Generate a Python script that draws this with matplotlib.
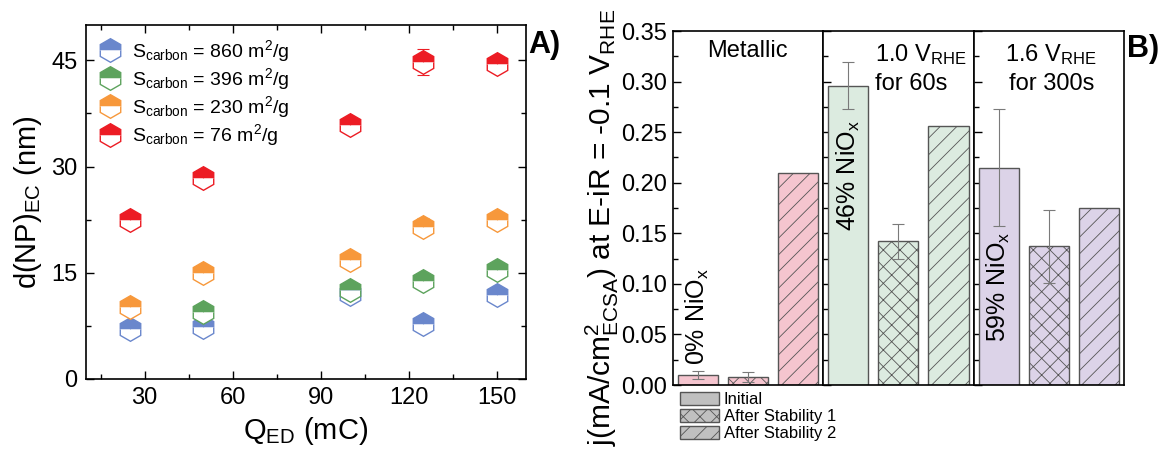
import matplotlib
matplotlib.use('Agg')
import matplotlib.pyplot as plt
from matplotlib.patches import Patch
from matplotlib.ticker import MultipleLocator, FormatStrFormatter
import numpy as np

plt.rcParams['font.family'] = ['Liberation Sans', 'DejaVu Sans']
plt.rcParams['mathtext.default'] = 'regular'
plt.rcParams['hatch.linewidth'] = 0.6

# ---- panel A data ----
q_ed = [25, 50, 100, 125, 150]
d_860 = [7.0, 7.3, 12.0, 7.8, 11.9]
d_860_err = [0.4, 0.4, 0.5, 0.4, 0.4]
q_396 = [50, 100, 125, 150]
d_396 = [9.4, 12.6, 13.8, 15.4]
d_396_err = [0.4, 0.4, 0.5, 0.5]
d_230 = [10.2, 15.0, 16.8, 21.5, 22.5]
d_230_err = [0.4, 0.5, 0.5, 1.2, 0.6]
d_76 = [22.4, 28.4, 35.9, 44.8, 44.5]
d_76_err = [0.5, 0.6, 0.6, 1.8, 1.1]

series_a = [
    ('S$_{carbon}$ = 860 m$^2$/g', q_ed, d_860, d_860_err, '#6a87cc'),
    ('S$_{carbon}$ = 396 m$^2$/g', q_396, d_396, d_396_err, '#5da35d'),
    ('S$_{carbon}$ = 230 m$^2$/g', q_ed, d_230, d_230_err, '#f7983b'),
    ('S$_{carbon}$ = 76 m$^2$/g', q_ed, d_76, d_76_err, '#ec1c24'),
]

# ---- panel B data ----
group_names = ['Metallic', '1.0 V$_{RHE}$\nfor 60s', '1.6 V$_{RHE}$\nfor 300s']
nio_labels = ['0% NiO$_x$', '46% NiO$_x$', '59% NiO$_x$']
j_values = [[0.010, 0.008, 0.210],
            [0.296, 0.142, 0.256],
            [0.215, 0.137, 0.175]]
j_errors = [[0.004, 0.005, 0.0],
            [0.023, 0.017, 0.0],
            [0.058, 0.036, 0.0]]
group_colors = ['#f5c5cf', '#dcebe0', '#dcd3e8']
stages = ['Initial', 'After Stability 1', 'After Stability 2']
hatches = ['', 'xx', '//']

fig = plt.figure(figsize=(11.59, 4.57), dpi=100)

# ================= Panel A =================
axA = fig.add_axes([0.0742, 0.1707, 0.3796, 0.7746])
for label, xs, ys, es, col in series_a:
    axA.errorbar(xs, ys, yerr=es, fmt='none', ecolor=col, elinewidth=0.8,
                 capsize=4, capthick=0.8, zorder=2)
    axA.plot(xs, ys, linestyle='none', marker='h', markersize=17,
             color=col, markerfacecolor=col, markerfacecoloralt='white',
             fillstyle='top', markeredgecolor=col, markeredgewidth=1.0,
             label=label, zorder=3)

axA.set_xlim(10, 160)
axA.set_ylim(0, 50)
axA.set_xticks([30, 60, 90, 120, 150])
axA.set_yticks([0, 15, 30, 45])
axA.xaxis.set_minor_locator(MultipleLocator(15))
axA.yaxis.set_minor_locator(MultipleLocator(7.5))
axA.tick_params(which='both', direction='in', top=True, right=True,
                labelsize=17, width=1.0)
axA.tick_params(which='major', length=6, pad=6)
axA.tick_params(which='minor', length=3.5)
for sp in axA.spines.values():
    sp.set_linewidth(1.2)
axA.set_xlabel('Q$_{ED}$ (mC)', fontsize=21, labelpad=4)
axA.set_ylabel('d(NP)$_{EC}$ (nm)', fontsize=21)
axA.yaxis.set_label_coords(-0.095, 0.5)
axA.legend(loc='upper left', frameon=False, fontsize=14, handletextpad=0.5,
           labelspacing=0.12, borderaxespad=0.25, handlelength=1.2)
fig.text(0.456, 0.935, 'A)', fontsize=22, fontweight='bold', va='top')

# ================= Panel B =================
left0 = 0.5804
gw = 0.1298
axes_b = []
for g in range(3):
    ax = fig.add_axes([left0 + g * gw, 0.1575, gw, 0.7746])
    axes_b.append(ax)
    xs = np.arange(1, 4)
    for k in range(3):
        err = j_errors[g][k] if j_errors[g][k] > 0 else None
        ax.bar(xs[k], j_values[g][k], width=0.8, color=group_colors[g],
               edgecolor='#555555', linewidth=1.0, hatch=hatches[k],
               yerr=err, ecolor='#7a7a7a',
               error_kw=dict(elinewidth=0.8, capsize=4, capthick=0.8),
               zorder=2)
    ax.set_xlim(0.5, 3.5)
    ax.set_ylim(0, 0.35)
    ax.set_xticks([])
    ax.yaxis.set_major_locator(MultipleLocator(0.05))
    ax.yaxis.set_minor_locator(MultipleLocator(0.025))
    ax.tick_params(axis='y', which='both', direction='in', labelsize=17,
                   width=1.0)
    ax.tick_params(axis='y', which='major', length=6, pad=4)
    ax.tick_params(axis='y', which='minor', length=3.5)
    for sp in ax.spines.values():
        sp.set_linewidth(1.2)
    if g > 0:
        ax.tick_params(axis='y', labelleft=False)

axB = axes_b[0]
axB.yaxis.set_major_formatter(FormatStrFormatter('%.2f'))
axB.set_ylabel('j(mA/cm$^2_{ECSA}$) at E-iR = -0.1 V$_{RHE}$', fontsize=21.5)
axB.yaxis.set_label_coords(-0.345, 0.445)

# group headings
axes_b[0].text(2.0, 0.330, group_names[0], fontsize=17, ha='center', va='center')
axes_b[1].text(1.53, 0.313, group_names[1], fontsize=17, ha='left', va='center',
               linespacing=1.35)
axes_b[2].text(2.05, 0.313, group_names[2], fontsize=17, ha='center', va='center',
               linespacing=1.35)

# vertical NiOx annotations
axes_b[0].text(1.0, 0.02, nio_labels[0], rotation=90, fontsize=18,
               ha='center', va='bottom')
axes_b[1].text(1.0, 0.262, nio_labels[1], rotation=90, fontsize=18,
               ha='center', va='top')
axes_b[2].text(1.0, 0.152, nio_labels[2], rotation=90, fontsize=18,
               ha='center', va='top')

fig.text(0.972, 0.925, 'B)', fontsize=22, fontweight='bold', va='top')

handles = [Patch(facecolor='#c0c0c0', edgecolor='#555555', hatch=h,
                 linewidth=1.0, label=s) for h, s in zip(hatches, stages)]
fig.legend(handles=handles, loc='upper left', bbox_to_anchor=(0.587, 0.143),
           frameon=False, fontsize=12, handlelength=2.3, handleheight=0.85,
           labelspacing=0.1, handletextpad=0.3, borderpad=0, borderaxespad=0)

fig.savefig('out.png', dpi=100)
